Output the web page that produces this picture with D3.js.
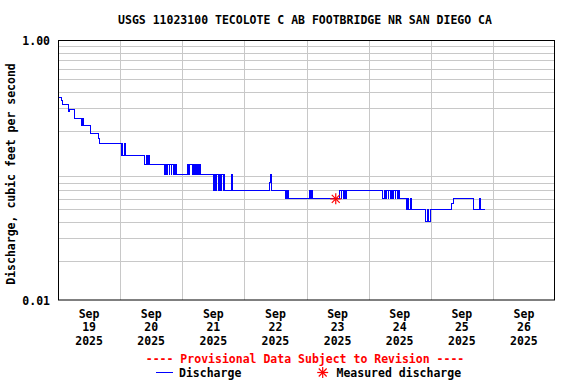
<!DOCTYPE html>
<html><head><meta charset="utf-8">
<script src="https://cdn.jsdelivr.net/npm/d3@7"></script>
<style>
html,body{margin:0;padding:0;background:#fff;}
svg text{font-family:"DejaVu Sans Mono","Liberation Mono",monospace;font-weight:bold;}
</style></head>
<body><svg id="c" width="576" height="384"></svg>
<script>
const title = "USGS 11023100 TECOLOTE C AB FOOTBRIDGE NR SAN DIEGO CA";
const yLabel = "Discharge, cubic feet per second";
const startDate = "2025-09-19T00:00:00";
const endDate = "2025-09-27T00:00:00";
const dayLabels = ["19","20","21","22","23","24","25","26"];
const yTickValues = [1, 0.01];
const yTickLabels = ["1.00", "0.01"];
// [hours since Sep 19 00:00, discharge cfs]
const discharge = [
 [0,.36],[1.3,.345],[1.7,.32],[4.0,.28],[4.6,.29],[6.2,.25],
 [8.9,.22],[9.1,.25],[9.5,.22],[9.7,.25],[10.0,.22],
 [12.4,.19],[15.7,.175],[16.0,.16],
 [24.4,.13],[24.8,.16],[25.0,.13],[25.5,.16],[25.75,.13],[26.0,.16],[26.25,.13],
 [33.6,.11],[34.0,.13],[34.5,.11],[34.9,.13],[35.3,.11],
 [41.0,.092],[41.5,.11],[41.75,.092],[42.25,.11],[42.9,.092],[43.2,.11],[43.7,.092],[44.0,.11],
 [44.6,.092],[45.0,.11],[45.3,.092],[45.6,.11],[45.9,.092],
 [50.1,.11],[50.6,.092],[50.9,.11],[51.9,.092],[52.2,.11],[52.8,.092],[53.1,.11],[53.6,.092],
 [53.9,.11],[54.3,.092],[54.6,.11],[54.9,.092],
 [60.0,.07],[60.25,.092],[60.5,.07],[60.75,.092],[61.0,.07],[61.25,.092],
 [62.0,.07],[62.25,.092],[62.5,.07],[62.75,.092],[63.0,.07],[63.25,.092],
 [63.75,.07],[64.0,.092],[64.25,.07],
 [67.2,.092],[67.45,.07],
 [81.8,.08],[82.1,.092],[82.4,.07],
 [87.7,.06],[88.1,.07],[88.4,.06],[88.7,.07],[89.0,.06],
 [97.3,.07],[97.6,.06],[98.0,.07],[98.4,.06],
 [108.9,.07],[109.4,.06],[109.7,.07],[110.3,.06],[110.6,.07],[111.2,.06],[111.5,.07],
 [125.5,.06],[126.0,.07],[126.4,.06],[126.9,.07],[127.5,.06],[127.8,.07],[128.4,.06],[128.7,.07],
 [129.3,.06],[129.6,.07],[130.2,.06],[130.5,.07],[131.1,.06],[131.4,.07],[131.8,.06],
 [134.7,.05],[135.2,.06],[135.5,.05],[136.1,.06],[136.4,.05],
 [142.0,.04],[142.6,.05],[143.1,.04],[143.9,.05],
 [152.1,.055],[152.7,.06],[160.4,.05],[163.0,.06],[163.25,.05],[164.9,.05]
];
const measured = [[107.3, 0.06]];

const svg = d3.select("#c");
const t0 = new Date(startDate);
const toDate = h => d3.timeMinute.offset(t0, Math.round(h*60));
const x = d3.scaleTime().domain([t0, new Date(endDate)]).range([58, 555]);
const y = d3.scaleLog().domain([0.01, 1]).range([300, 40]);

// horizontal grid
const minor = [];
[0.01, 0.1].forEach(d => { for (let k = 2; k <= 9; k++) minor.push(d*k); });
svg.append("g").selectAll("line").data(minor).join("line")
  .attr("x1", 58).attr("x2", 555)
  .attr("y1", d => Math.round(y(d))+0.5).attr("y2", d => Math.round(y(d))+0.5)
  .attr("stroke", "#c8c8c8").attr("stroke-width", 1);
// vertical grid at midnights
const days = d3.timeDay.range(d3.timeDay.offset(t0,1), new Date(endDate));
svg.append("g").selectAll("line").data(days).join("line")
  .attr("x1", d => Math.round(x(d))+0.5).attr("x2", d => Math.round(x(d))+0.5)
  .attr("y1", 40).attr("y2", 300)
  .attr("stroke", "#c8c8c8").attr("stroke-width", 1);

// data line
const line = d3.line().x(d => x(toDate(d[0]))).y(d => y(d[1])).curve(d3.curveStepAfter);
svg.append("path").datum(discharge).attr("d", line)
  .attr("fill", "none").attr("stroke", "#0000ff").attr("stroke-width", 1)
  .attr("shape-rendering", "crispEdges");

// measured
function star(g, cx, cy, r) {
  [[0,1],[1,0],[0.72,0.72],[0.72,-0.72]].forEach(([dx,dy]) => {
    g.append("line").attr("x1", cx-dx*r).attr("x2", cx+dx*r).attr("y1", cy-dy*r).attr("y2", cy+dy*r)
      .attr("stroke", "#ff0000").attr("stroke-width", 1.2);
  });
}
measured.forEach(m => star(svg.append("g"), x(toDate(m[0])), y(m[1]), 5.5));

// border
svg.append("rect").attr("x", 58.5).attr("y", 40.5).attr("width", 496).attr("height", 259.5)
  .attr("fill", "none").attr("stroke", "#000").attr("stroke-width", 1);

// title
svg.append("text").attr("x", 305).attr("y", 24).attr("text-anchor", "middle")
  .attr("font-size", 11.5).text(title);

// y ticks
svg.append("g").selectAll("text").data(yTickValues).join("text")
  .attr("x", 50).attr("y", d => y(d)+4.5).attr("text-anchor", "end")
  .attr("font-size", 11.5).text((d,i) => yTickLabels[i]);

// y label
svg.append("text").attr("transform", "translate(15,174) rotate(-90)")
  .attr("text-anchor", "middle").attr("font-size", 11.5).text(yLabel);

// x labels at noon
const noons = dayLabels.map((d,i) => d3.timeHour.offset(t0, 12 + 24*i));
const xl = svg.append("g").selectAll("g").data(noons).join("g");
xl.append("text").attr("x", d => x(d)).attr("y", 318).attr("text-anchor","middle").attr("font-size",11.5).text("Sep");
xl.append("text").attr("x", d => x(d)).attr("y", 331).attr("text-anchor","middle").attr("font-size",11.5).text((d,i)=>dayLabels[i]);
xl.append("text").attr("x", d => x(d)).attr("y", 345).attr("text-anchor","middle").attr("font-size",11.5).text("2025");

// legend
svg.append("text").attr("x", 305).attr("y", 362.5).attr("text-anchor","middle").attr("font-size",11.5)
  .attr("fill","#ff0000").text("---- Provisional Data Subject to Revision ----");
svg.append("line").attr("x1",156).attr("x2",173).attr("y1",372.5).attr("y2",372.5).attr("stroke","#0000ff");
svg.append("text").attr("x",179).attr("y",377).attr("font-size",11.5).text("Discharge");
star(svg.append("g"), 322.7, 372.5, 5.5);
svg.append("text").attr("x",336.5).attr("y",377).attr("font-size",11.5).text("Measured discharge");
</script></body></html>
